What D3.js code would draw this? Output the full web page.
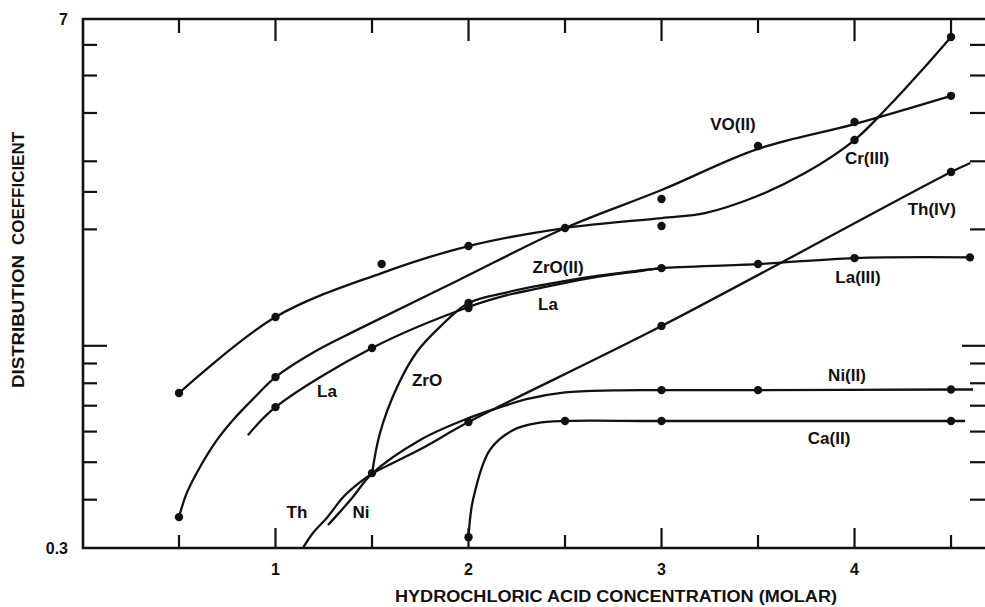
<!DOCTYPE html>
<html>
<head>
<meta charset="utf-8">
<script src="https://cdn.jsdelivr.net/npm/d3@7"></script>
<style>
  body { margin: 0; background: #fff; }
  svg { display: block; }
  text { font-family: "Liberation Sans", Arial, sans-serif; font-weight: bold; fill: #111; }
</style>
</head>
<body>
<svg id="chart" width="985" height="607"></svg>
<script>
// x ticks (molar) and y ticks (log scale)
var xTicks = [0.5, 1, 1.5, 2, 2.5, 3, 3.5, 4, 4.5];
var xLabels = [1, 2, 3, 4];
var yTicksLeft = [6, 5, 4, 3, 2.5, 2, 1, 0.9, 0.8, 0.7, 0.6, 0.5, 0.4];
var yTicksRight = [6, 5, 4, 3, 2, 1, 0.9, 0.8, 0.7, 0.6, 0.5, 0.4];
var yLabels = [0.3, 7];

// measured points for each ion
var crDots = [[0.5, 0.755], [1, 1.187], [1.55, 1.627], [2, 1.811], [2.5, 2.016], [3, 2.04], [4, 3.405], [4.5, 6.29]];
var crCurve = [[0.5, 0.755], [1, 1.187], [1.55, 1.542], [2, 1.811], [2.5, 2.016], [3, 2.14],
    [3.225, 2.204], [3.484, 2.425], [3.743, 2.797], [4, 3.405], [4.173, 4.144], [4.35, 5.166], [4.5, 6.29]];

var voDots = [[0.5, 0.3605], [1, 0.83], [3, 2.396], [3.5, 3.286], [4, 3.79], [4.5, 4.43]];
var voCurve = [[0.5, 0.3605], [0.54, 0.416], [0.609, 0.486], [0.697, 0.571], [0.78, 0.643], [0.883, 0.728], [1, 0.83],
    [1.2, 0.964], [1.42, 1.098], [1.95, 1.48], [2.5, 2.016], [3, 2.528], [3.5, 3.23], [4, 3.745], [4.5, 4.43]];

var thDots = [[2, 0.635], [3, 1.125], [4.5, 2.814]];
var thCurve = [[1.142, 0.3], [1.194, 0.328], [1.269, 0.3605], [1.35, 0.406], [1.438, 0.444], [1.5, 0.467],
    [1.75, 0.54], [2, 0.635], [3, 1.125], [4.5, 2.814], [4.6, 2.97]];

var niDots = [[1.5, 0.4686], [3, 0.768], [3.5, 0.768], [4.5, 0.771]];
var niCurve = [[1.272, 0.344], [1.334, 0.372], [1.40, 0.406], [1.5, 0.467], [1.75, 0.571], [2, 0.65], [2.15, 0.69],
    [2.3, 0.728], [2.5, 0.758], [2.75, 0.767], [3, 0.768], [3.5, 0.768], [4.5, 0.771], [4.614, 0.771]];

var caDots = [[2, 0.32], [2.5, 0.639], [3, 0.639], [4.5, 0.639]];
var caCurve = [[2, 0.32], [2.023, 0.399], [2.11, 0.5375], [2.23, 0.605], [2.355, 0.631], [2.5, 0.639], [3, 0.639],
    [4.5, 0.639], [4.573, 0.639]];

var laDots = [[1, 0.694], [1.5, 0.987], [2, 1.252], [3, 1.588], [3.5, 1.627], [4, 1.686], [4.598, 1.693]];
var laCurve = [[0.857, 0.587], [1, 0.694], [1.5, 0.987], [2, 1.26], [2.2, 1.352], [2.37, 1.41], [2.63, 1.497],
    [2.889, 1.561], [3, 1.588], [3.5, 1.627], [4, 1.686], [4.598, 1.693]];

var zroDots = [[2, 1.29]];
var zroCurve = [[1.5, 0.467], [1.541, 0.594], [1.63, 0.782], [1.733, 0.965], [1.852, 1.119], [2, 1.29], [2.2, 1.375],
    [2.37, 1.432], [2.63, 1.508], [2.889, 1.566], [3, 1.588]];

// labels: text, x value, y value
var seriesLabels = [
    ["VO(II)", 3.37, 3.75],
    ["Cr(III)", 4.065, 3.06],
    ["Th(IV)", 4.4, 2.26],
    ["ZrO(II)", 2.464, 1.6],
    ["La(III)", 4.018, 1.506],
    ["La", 2.412, 1.282],
    ["La", 1.267, 0.764],
    ["ZrO", 1.785, 0.815],
    ["Th", 1.111, 0.372],
    ["Ni", 1.443, 0.372],
    ["Ni(II)", 3.961, 0.84],
    ["Ca(II)", 3.868, 0.577]
];

function drawChart() {
    var svg = d3.select("#chart");
    var left = 83, right = 985, plotTop = 19, plotBottom = 548;

    var x = d3.scaleLinear().domain([0, 4.676]).range([82.5, 985]);
    var y = d3.scaleLog().domain([0.3, 7]).range([plotBottom, plotTop]);

    var line = d3.line()
        .x(function(d) { return x(d[0]); })
        .y(function(d) { return y(d[1]); })
        .curve(d3.curveCatmullRom.alpha(0.5));

    // frame (right edge is cut off in the scan)
    svg.append("path")
        .attr("d", "M" + right + "," + plotTop + "H" + left + "V" + plotBottom + "H" + right)
        .attr("fill", "none")
        .attr("stroke", "#111")
        .attr("stroke-width", 2.6);

    var ticks = svg.append("g").attr("stroke", "#111").attr("stroke-width", 2.2);

    ticks.selectAll(".tt").data(xTicks).enter().append("line")
        .attr("x1", function(d) { return x(d); })
        .attr("x2", function(d) { return x(d); })
        .attr("y1", plotTop)
        .attr("y2", function(d) { return plotTop + (d % 1 === 0 ? 22 : 14); });

    ticks.selectAll(".bt").data(xTicks).enter().append("line")
        .attr("x1", function(d) { return x(d); })
        .attr("x2", function(d) { return x(d); })
        .attr("y1", plotBottom)
        .attr("y2", function(d) { return plotBottom - (d % 1 === 0 ? 20 : 13); });

    ticks.selectAll(".lt").data(yTicksLeft).enter().append("line")
        .attr("x1", left)
        .attr("x2", function(d) { return left + (d === 1 ? 24 : 14); })
        .attr("y1", function(d) { return y(d); })
        .attr("y2", function(d) { return y(d); });

    ticks.selectAll(".rt").data(yTicksRight).enter().append("line")
        .attr("x1", right)
        .attr("x2", function(d) { return right - (d === 1 ? 23 : 15); })
        .attr("y1", function(d) { return y(d); })
        .attr("y2", function(d) { return y(d); });

    // tick labels
    svg.selectAll(".xl").data(xLabels).enter().append("text")
        .attr("x", function(d) { return x(d); })
        .attr("y", 575)
        .attr("text-anchor", "middle")
        .style("font-size", "16px")
        .text(function(d) { return d; });

    svg.selectAll(".yl").data(yLabels).enter().append("text")
        .attr("x", 68)
        .attr("y", function(d) { return y(d) + 6; })
        .attr("text-anchor", "end")
        .style("font-size", "16px")
        .text(function(d) { return d; });

    // axis titles
    svg.append("text")
        .attr("x", 616)
        .attr("y", 602)
        .attr("text-anchor", "middle")
        .attr("textLength", 442)
        .attr("lengthAdjust", "spacingAndGlyphs")
        .style("font-size", "16px")
        .text("HYDROCHLORIC ACID CONCENTRATION (MOLAR)");

    svg.append("text")
        .attr("transform", "translate(24,388) rotate(-90)")
        .attr("textLength", 133)
        .attr("lengthAdjust", "spacingAndGlyphs")
        .style("font-size", "17px")
        .text("DISTRIBUTION");

    svg.append("text")
        .attr("transform", "translate(24,245) rotate(-90)")
        .attr("textLength", 113)
        .attr("lengthAdjust", "spacingAndGlyphs")
        .style("font-size", "17px")
        .text("COEFFICIENT");

    // curves
    var curves = [crCurve, voCurve, thCurve, niCurve, caCurve, laCurve, zroCurve];
    svg.append("g").selectAll("path")
        .data(curves)
        .enter().append("path")
        .attr("d", line)
        .attr("fill", "none")
        .attr("stroke", "#111")
        .attr("stroke-width", 2.3);

    // dots
    var dots = [].concat(crDots, voDots, thDots, niDots, caDots, laDots, zroDots);
    svg.append("g").selectAll("circle")
        .data(dots)
        .enter().append("circle")
        .attr("cx", function(d) { return x(d[0]); })
        .attr("cy", function(d) { return y(d[1]); })
        .attr("r", 4.2)
        .attr("fill", "#111");

    // series labels
    svg.append("g").selectAll("text")
        .data(seriesLabels)
        .enter().append("text")
        .attr("x", function(d) { return x(d[1]); })
        .attr("y", function(d) { return y(d[2]); })
        .attr("text-anchor", "middle")
        .attr("dy", "0.35em")
        .style("font-size", "17px")
        .text(function(d) { return d[0]; });
}

drawChart();
</script>
</body>
</html>
